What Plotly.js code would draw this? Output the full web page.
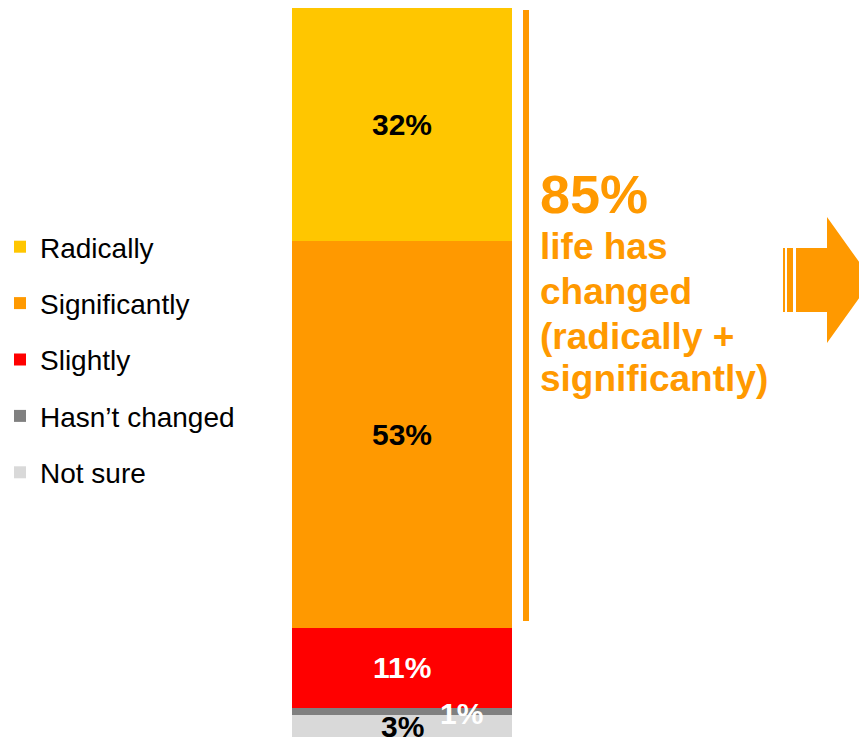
<!DOCTYPE html>
<html>
<head>
<meta charset="utf-8">
<script src="https://cdn.plot.ly/plotly-3.0.1.min.js"></script>
<style>html,body{margin:0;padding:0;background:#fff;}#chart{width:859px;height:737px;}</style>
</head>
<body>
<div id="chart"></div>
<script>
// ---- data (bottom of the stack first) ----
const categories = ['Not sure', 'Hasn\u2019t changed', 'Slightly', 'Significantly', 'Radically'];
const values = [3, 1, 11, 53, 32];
const barColors = ['#D9D9D9', '#808080', '#FF0000', '#FF9900', '#FFC600'];
const labelColors = ['#000000', '#FFFFFF', '#FFFFFF', '#000000', '#000000'];
const barCategory = ['All respondents'];
const summaryLines = ['life has', 'changed', '(radically +', 'significantly)'];

const W = 859, H = 737;
const M = {l: 292, r: 347, t: 8, b: 0};
const PW = W - M.l - M.r, PH = H - M.t - M.b;
const px = x => (x - M.l) / PW;
const py = y => (H - M.b - y) / PH;

const orange = '#FF9900';
const font = 'Liberation Sans, Arial, sans-serif';

const traces = categories.map((c, i) => ({
  type: 'bar',
  name: c,
  x: barCategory,
  y: [values[i]],
  marker: {color: barColors[i], line: {width: 0}},
  legendgroup: 'g' + i,
  legendrank: 1000 - i,
  hoverinfo: 'skip',
  showlegend: true
}));

// value labels at segment centres
const annotations = [];
let cum = 0;
values.forEach((v, i) => {
  const mid = cum + v / 2;
  cum += v;
  annotations.push({
    xref: 'x', yref: 'y', x: barCategory[0], y: mid,
    text: '<b>' + v + '%</b>', showarrow: false,
    xshift: (i === 1 ? 59 : 0), yshift: (i === 1 ? -2 : 0),
    font: {family: font, size: 30, color: labelColors[i]},
    xanchor: 'center', yanchor: 'middle'
  });
});

const changed = values[4] + values[3];
annotations.push({
  xref: 'paper', yref: 'paper', x: px(538), y: py(194),
  text: '<b>' + changed + '%</b>', showarrow: false,
  xanchor: 'left', yanchor: 'middle',
  font: {family: font, size: 54, color: orange}
});
const lineCenters = [246, 291, 336, 379];
summaryLines.forEach((t, i) => {
  annotations.push({
    xref: 'paper', yref: 'paper', x: px(538), y: py(lineCenters[i]),
    text: '<b>' + t + '</b>', showarrow: false,
    xanchor: 'left', yanchor: 'middle',
    font: {family: font, size: 37, color: orange}
  });
});

const shapes = [
  // bracket line
  {type: 'rect', xref: 'paper', yref: 'paper', x0: px(523), x1: px(529), y0: py(621), y1: py(10),
   fillcolor: orange, line: {width: 0}},
  // arrow stripes
  {type: 'rect', xref: 'paper', yref: 'paper', x0: px(783), x1: px(785), y0: py(312), y1: py(248),
   fillcolor: orange, line: {width: 0}},
  {type: 'rect', xref: 'paper', yref: 'paper', x0: px(787), x1: px(793), y0: py(312), y1: py(248),
   fillcolor: orange, line: {width: 0}},
  // arrow body + head
  {type: 'path', xref: 'paper', yref: 'paper',
   path: 'M' + px(796) + ',' + py(248) + ' L' + px(827) + ',' + py(248) + ' L' + px(827) + ',' + py(217) +
         ' L' + px(872) + ',' + py(280) + ' L' + px(827) + ',' + py(343) + ' L' + px(827) + ',' + py(312) +
         ' L' + px(796) + ',' + py(312) + ' Z',
   fillcolor: orange, line: {width: 0}}
];

const layout = {
  width: W, height: H,
  margin: M,
  paper_bgcolor: '#FFFFFF', plot_bgcolor: '#FFFFFF',
  barmode: 'stack', bargap: 0,
  xaxis: {visible: false, range: [-0.5, 0.5], fixedrange: true},
  yaxis: {visible: false, range: [0, 100], fixedrange: true},
  showlegend: true,
  legend: {
    x: px(0), y: py(222), xanchor: 'left', yanchor: 'top',
    traceorder: 'grouped', tracegroupgap: 17,
    font: {family: 'Liberation Sans, Arial, sans-serif', size: 28, color: '#000000'},
    bgcolor: 'rgba(0,0,0,0)', borderwidth: 0
  },
  annotations: annotations,
  shapes: shapes,
  hovermode: false
};

Plotly.newPlot('chart', traces, layout, {displayModeBar: false, staticPlot: true});
</script>
</body>
</html>
